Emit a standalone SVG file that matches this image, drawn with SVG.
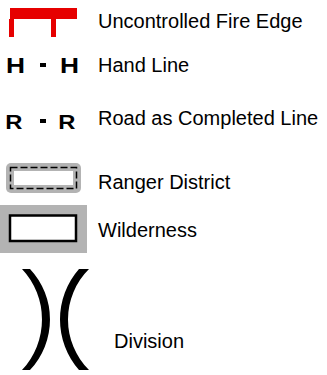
<svg xmlns="http://www.w3.org/2000/svg" width="327" height="375" viewBox="0 0 327 375">
<style>
.lbl{font-family:"Liberation Sans",Arial,sans-serif;font-size:20px;fill:#000}
.sym{font-family:"Liberation Sans",Arial,sans-serif;font-weight:bold;fill:#000}
.gray{fill:#b3b3b3}
</style>
<rect width="327" height="375" fill="#fff"/>
<g id="fire-edge">
<path d="M10,8 H77 V19 H56 V37 H51 V19 H14 V37 H9 V19 H10 Z" fill="#e60000"/>
<text class="lbl" x="98" y="28">Uncontrolled Fire Edge</text>
</g>
<g id="hand-line">
<text class="sym" x="6" y="73" font-size="22" textLength="19" lengthAdjust="spacingAndGlyphs">H</text>
<rect x="40" y="63" width="6" height="4" fill="#000"/>
<text class="sym" x="60" y="73" font-size="22" textLength="19" lengthAdjust="spacingAndGlyphs">H</text>
<text class="lbl" x="98" y="72">Hand Line</text>
</g>
<g id="road-line">
<text class="sym" x="5.2" y="128.5" font-size="20" textLength="17.2" lengthAdjust="spacingAndGlyphs">R</text>
<rect x="40" y="119" width="6" height="4" fill="#000"/>
<text class="sym" x="58.2" y="128.5" font-size="20" textLength="17.2" lengthAdjust="spacingAndGlyphs">R</text>
<text class="lbl" x="98" y="125">Road as Completed Line</text>
</g>
<g id="ranger-district">
<rect class="gray" x="6" y="163" width="75" height="30" rx="5"/>
<rect x="10.5" y="167.5" width="66" height="21" fill="none" stroke="#000" stroke-width="1.5" stroke-dasharray="7,3"/>
<rect x="14" y="171" width="59" height="14" fill="#fff"/>
<text class="lbl" x="98" y="189">Ranger District</text>
</g>
<g id="wilderness">
<rect class="gray" x="0" y="205" width="87" height="48"/>
<rect x="10" y="215.5" width="66" height="25.5" fill="#fff" stroke="#000" stroke-width="2.5"/>
<text class="lbl" x="98" y="237">Wilderness</text>
</g>
<g id="division">
<path d="M22,269 L30,269 A73.8,73.8 0 0 1 30,370 L22,370 A73.8,73.8 0 0 0 22,269 Z" fill="#000"/>
<path d="M89,269 L79,269 A76.6,76.6 0 0 0 79,370 L89,370 A71.2,71.2 0 0 1 89,269 Z" fill="#000"/>
<text class="lbl" x="114" y="348">Division</text>
</g>
<g id="connectors"/>
</svg>
